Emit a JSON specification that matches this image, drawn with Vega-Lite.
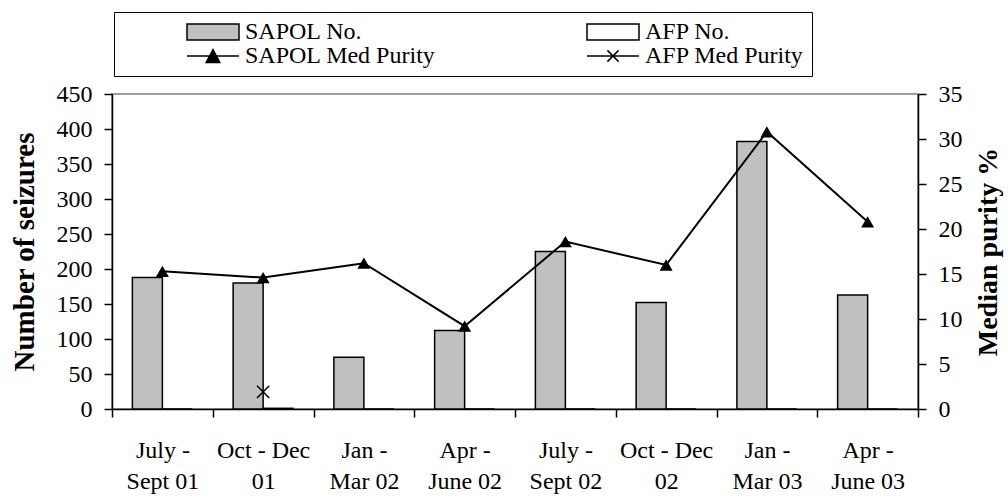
{
  "$schema": "https://vega.github.io/schema/vega-lite/v6.json",
  "width": 806,
  "height": 315,
  "autosize": {"type": "none"},
  "padding": {"left": 112, "top": 94, "right": 90, "bottom": 88},
  "background": "white",
  "config": {
    "view": {"stroke": "#808080", "strokeWidth": 1.5},
    "font": "Liberation Serif",
    "legend": {"labelFont": "Liberation Serif", "labelFontSize": 24, "labelColor": "black"},
    "axis": {
      "labelFont": "Liberation Serif",
      "labelFontSize": 24,
      "labelColor": "black",
      "titleFont": "Liberation Serif",
      "titleFontSize": 28,
      "titleFontWeight": "bold",
      "titleColor": "black",
      "domainColor": "black",
      "domainWidth": 1.5,
      "tickColor": "black",
      "tickWidth": 1.5,
      "tickSize": 8,
      "grid": false
    }
  },
  "datasets": {
    "counts": [
      {"period": "July -\nSept 01", "series": "SAPOL No.", "n": 188},
      {"period": "Oct - Dec\n01", "series": "SAPOL No.", "n": 180},
      {"period": "Jan -\nMar 02", "series": "SAPOL No.", "n": 74},
      {"period": "Apr -\nJune 02", "series": "SAPOL No.", "n": 112},
      {"period": "July -\nSept 02", "series": "SAPOL No.", "n": 225},
      {"period": "Oct - Dec\n02", "series": "SAPOL No.", "n": 152},
      {"period": "Jan -\nMar 03", "series": "SAPOL No.", "n": 382},
      {"period": "Apr -\nJune 03", "series": "SAPOL No.", "n": 163},
      {"period": "July -\nSept 01", "series": "AFP No.", "n": 0},
      {"period": "Oct - Dec\n01", "series": "AFP No.", "n": 1},
      {"period": "Jan -\nMar 02", "series": "AFP No.", "n": 0},
      {"period": "Apr -\nJune 02", "series": "AFP No.", "n": 0},
      {"period": "July -\nSept 02", "series": "AFP No.", "n": 0},
      {"period": "Oct - Dec\n02", "series": "AFP No.", "n": 0},
      {"period": "Jan -\nMar 03", "series": "AFP No.", "n": 0},
      {"period": "Apr -\nJune 03", "series": "AFP No.", "n": 0}
    ],
    "purity": [
      {"period": "July -\nSept 01", "series": "SAPOL Med Purity", "purity": 15.3},
      {"period": "Oct - Dec\n01", "series": "SAPOL Med Purity", "purity": 14.6},
      {"period": "Jan -\nMar 02", "series": "SAPOL Med Purity", "purity": 16.2},
      {"period": "Apr -\nJune 02", "series": "SAPOL Med Purity", "purity": 9.2},
      {"period": "July -\nSept 02", "series": "SAPOL Med Purity", "purity": 18.6},
      {"period": "Oct - Dec\n02", "series": "SAPOL Med Purity", "purity": 16.0},
      {"period": "Jan -\nMar 03", "series": "SAPOL Med Purity", "purity": 30.8},
      {"period": "Apr -\nJune 03", "series": "SAPOL Med Purity", "purity": 20.8}
    ],
    "afp": [
      {"period": "Oct - Dec\n01", "series": "AFP Med Purity", "purity": 1.9}
    ]
  },
  "encoding": {
    "x": {
      "field": "period", "type": "nominal", "sort": null,
      "scale": {"paddingInner": 0, "paddingOuter": 0},
      "axis": {
        "orient": "bottom",
        "title": null, "labelAngle": 0, "tickBand": "extent",
        "labelExpr": "split(datum.label, '\\n')",
        "labelLineHeight": 31, "labelPadding": 21, "labelOverlap": false
      }
    }
  },
  "layer": [
    {
      "data": {"name": "counts"},
      "mark": {"type": "bar", "stroke": "black", "strokeWidth": 1.5},
      "encoding": {
        "xOffset": {
          "field": "series", "type": "nominal",
          "sort": ["SAPOL No.", "AFP No."],
          "scale": {"paddingInner": 0, "paddingOuter": 0.68}
        },
        "y": {
          "field": "n", "type": "quantitative",
          "scale": {"domain": [0, 450]},
          "axis": {
            "orient": "left",
            "title": "Number of seizures", "titleFontSize": 29,
            "values": [0, 50, 100, 150, 200, 250, 300, 350, 400, 450],
            "labelPadding": 12, "titlePadding": 17
          }
        },
        "fill": {
          "field": "series", "type": "nominal",
          "scale": {
            "domain": ["SAPOL No.", "SAPOL Med Purity", "AFP No.", "AFP Med Purity"],
            "range": ["#c0c0c0", "#000000", "#ffffff", "#000000"]
          },
          "legend": {
            "title": null, "orient": "none", "legendX": 2, "legendY": -82,
            "columns": 2, "columnPadding": 86, "rowPadding": 0, "gridAlign": "all",
            "padding": 8, "strokeColor": "black", "fillColor": "white",
            "symbolSize": 256, "symbolOffset": 79, "labelOffset": 20,
            "labelFont": "Liberation Serif", "labelFontSize": 24, "labelColor": "black",
            "labelLimit": 400,
            "symbolStrokeColor": "black", "symbolStrokeWidth": 1.5,
            "encode": {
              "symbols": {
                "update": {
                  "shape": {"signal": "datum.value === 'SAPOL No.' || datum.value === 'AFP No.' ? 'M-3.25,-1H3.25V1H-3.25Z' : datum.value === 'SAPOL Med Purity' ? 'M-3.25,0H3.25M0,-0.8L0.85,0.8H-0.85Z' : 'M-3.25,0H3.25M-0.7,-0.7L0.7,0.7M-0.7,0.7L0.7,-0.7'"},
                  "stroke": {"value": "black"},
                  "strokeWidth": {"value": 1.5}
                }
              }
            }
          }
        }
      }
    },
    {
      "layer": [
        {
          "data": {"name": "purity"},
          "mark": {"type": "line", "color": "black", "strokeWidth": 2},
          "encoding": {
            "y": {
              "field": "purity", "type": "quantitative",
              "scale": {"domain": [0, 35]},
              "axis": {
                "orient": "right", "title": "Median purity %",
                "values": [0, 5, 10, 15, 20, 25, 30, 35],
                "labelPadding": 12, "titleAngle": 270, "titleBaseline": "top", "titlePadding": 12
              }
            }
          }
        },
        {
          "data": {"name": "purity"},
          "mark": {"type": "point", "shape": "triangle-up", "filled": true, "color": "black", "opacity": 1, "size": 169},
          "encoding": {
            "y": {"field": "purity", "type": "quantitative"}
          }
        },
        {
          "data": {"name": "afp"},
          "mark": {"type": "point", "shape": "M-1,-1L1,1M-1,1L1,-1", "filled": false, "stroke": "black", "strokeWidth": 1.5, "opacity": 1, "size": 150},
          "encoding": {
            "y": {"field": "purity", "type": "quantitative"}
          }
        }
      ]
    }
  ],
  "resolve": {"scale": {"y": "independent"}}
}
